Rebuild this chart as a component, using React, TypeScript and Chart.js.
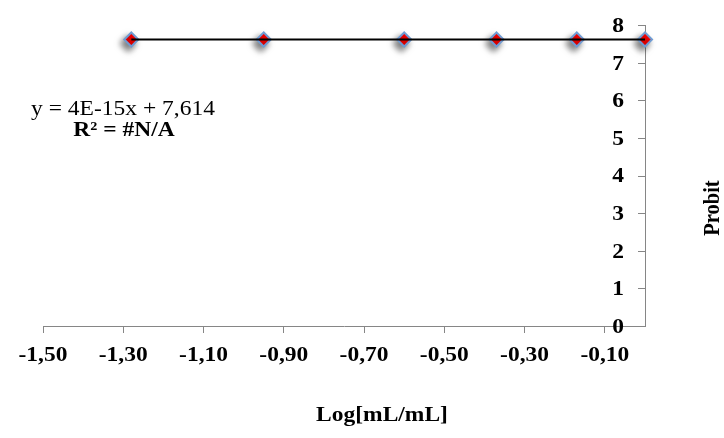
import React, { useEffect, useRef } from "react";
import { Chart, registerables } from "chart.js";

Chart.register(...registerables);

// ---- data ----
const logConcentration = [-1.28, -0.95, -0.6, -0.37, -0.17, 0.0];
const probitValues = [7.614, 7.614, 7.614, 7.614, 7.614, 7.614];
const xTickValues = [-1.5, -1.3, -1.1, -0.9, -0.7, -0.5, -0.3, -0.1];
const yTickValues = [0, 1, 2, 3, 4, 5, 6, 7, 8];
const trendSlope = 4e-15;
const trendIntercept = 7.614;
const equationLabel = "y = 4E-15x + 7,614";
const r2Label = "R² = #N/A";
const xAxisTitle = "Log[mL/mL]";
const yAxisTitle = "Probit";

// ---- styles ----
const FAMILY = '"Liberation Serif", "Times New Roman", serif';
const SIZE = 23.5;
const SQUISH = 0.87;
const AXIS_GREY = "#868686";

function drawText(
  ctx: CanvasRenderingContext2D,
  text: string,
  x: number,
  y: number,
  bold: boolean,
  align: CanvasTextAlign,
  rotate = false
) {
  ctx.save();
  ctx.font = `${bold ? "bold " : ""}${SIZE}px ${FAMILY}`;
  ctx.fillStyle = "#000";
  ctx.textAlign = align;
  ctx.textBaseline = rotate ? "middle" : "alphabetic";
  ctx.translate(x, y);
  ctx.scale(1, SQUISH);
  if (rotate) ctx.rotate(-Math.PI / 2);
  ctx.fillText(text, 0, 0);
  ctx.restore();
}

const fmtX = (v: number) => v.toFixed(2).replace(".", ",");

const shadowPlugin = {
  id: "markerShadow",
  beforeDatasetDraw(chart: any, args: any) {
    if (args.index === 1) {
      const ctx = chart.ctx;
      ctx.save();
      ctx.shadowColor = "rgba(0,0,0,0.5)";
      ctx.shadowBlur = 6;
      ctx.shadowOffsetX = -3;
      ctx.shadowOffsetY = 4;
    }
  },
  afterDatasetDraw(chart: any, args: any) {
    if (args.index === 1) chart.ctx.restore();
  },
};

const axisTextPlugin = {
  id: "axisText",
  afterDraw(chart: any) {
    const ctx = chart.ctx as CanvasRenderingContext2D;
    const xs = chart.scales.x;
    const ys = chart.scales.y;
    const area = chart.chartArea;

    ctx.save();
    ctx.strokeStyle = AXIS_GREY;
    ctx.lineWidth = 1;
    yTickValues.forEach((v) => {
      const py = Math.round(ys.getPixelForValue(v)) + 0.5;
      ctx.beginPath();
      ctx.moveTo(area.right - 7, py);
      ctx.lineTo(area.right, py);
      ctx.stroke();
    });
    ctx.restore();

    xTickValues.forEach((v) => {
      drawText(ctx, fmtX(v), xs.getPixelForValue(v), 361, true, "center");
    });
    yTickValues.forEach((v) => {
      drawText(ctx, String(v), 624, ys.getPixelForValue(v) + 6.9, true, "right");
    });

    drawText(ctx, xAxisTitle, 382, 421, true, "center");
    drawText(ctx, yAxisTitle, 713, 208, true, "center", true);

    drawText(ctx, equationLabel, 123, 115, false, "center");
    drawText(ctx, r2Label, 124, 136, true, "center");
  },
};

export default function App() {
  const ref = useRef<HTMLCanvasElement>(null);

  useEffect(() => {
    let chart: Chart | null = null;
    let cancelled = false;

    const build = () => {
      if (cancelled || !ref.current) return;
      const xMin = Math.min(...logConcentration);
      const xMax = Math.max(...logConcentration);
      const trendData = [xMin, xMax].map((x) => ({ x, y: trendIntercept + trendSlope * x }));
      const pointData = logConcentration.map((x, i) => ({ x, y: probitValues[i] }));

      chart = new Chart(ref.current, {
        type: "scatter",
        data: {
          datasets: [
            {
              label: "Trend",
              data: trendData,
              showLine: true,
              borderColor: "#000000",
              borderWidth: 2,
              pointRadius: 0,
              order: 0,
              clip: false,
            } as any,
            {
              label: "Probit",
              data: pointData,
              showLine: false,
              pointStyle: "rectRot",
              pointRadius: 7,
              pointBackgroundColor: "#ff0000",
              pointBorderColor: "#6f9bd2",
              pointBorderWidth: 2,
              order: 1,
              clip: false,
            } as any,
          ],
        },
        options: {
          responsive: false,
          animation: false,
          devicePixelRatio: 1,
          layout: { padding: { top: 25, right: 79, bottom: 104, left: 43 } },
          plugins: {
            legend: { display: false },
            tooltip: { enabled: false },
          },
          scales: {
            x: {
              type: "linear",
              position: "bottom",
              min: -1.5,
              max: 0,
              afterBuildTicks: (s: any) => {
                s.ticks = xTickValues.map((v) => ({ value: v }));
              },
              afterFit: (s: any) => {
                s.height = 8;
              },
              ticks: { display: false },
              grid: {
                display: true,
                drawOnChartArea: false,
                drawTicks: true,
                tickLength: 7,
                color: AXIS_GREY,
                lineWidth: 1,
              },
              border: { display: true, color: AXIS_GREY, width: 1 },
            },
            y: {
              type: "linear",
              position: "right",
              min: 0,
              max: 8,
              afterBuildTicks: (s: any) => {
                s.ticks = yTickValues.map((v) => ({ value: v }));
              },
              afterFit: (s: any) => {
                s.width = 0;
              },
              ticks: { display: false },
              grid: { display: false },
              border: { display: true, color: AXIS_GREY, width: 1 },
            },
          },
        } as any,
        plugins: [shadowPlugin, axisTextPlugin],
      });
    };

    const fonts: any = (document as any).fonts;
    if (fonts && fonts.load) {
      Promise.all([
        fonts.load(`${SIZE}px "Liberation Serif"`),
        fonts.load(`bold ${SIZE}px "Liberation Serif"`),
      ])
        .catch(() => undefined)
        .then(build);
    } else {
      build();
    }

    return () => {
      cancelled = true;
      if (chart) chart.destroy();
    };
  }, []);

  return (
    <div
      style={{
        position: "absolute",
        left: 0,
        top: 0,
        width: 724,
        height: 438,
        background: "#ffffff",
      }}
    >
      <span
        style={{
          position: "absolute",
          left: -9999,
          top: 0,
          fontFamily: FAMILY,
        }}
      >
        <span>a</span>
        <b>a</b>
      </span>
      <canvas ref={ref} width={724} height={438} style={{ display: "block", width: 724, height: 438 }} />
    </div>
  );
}
